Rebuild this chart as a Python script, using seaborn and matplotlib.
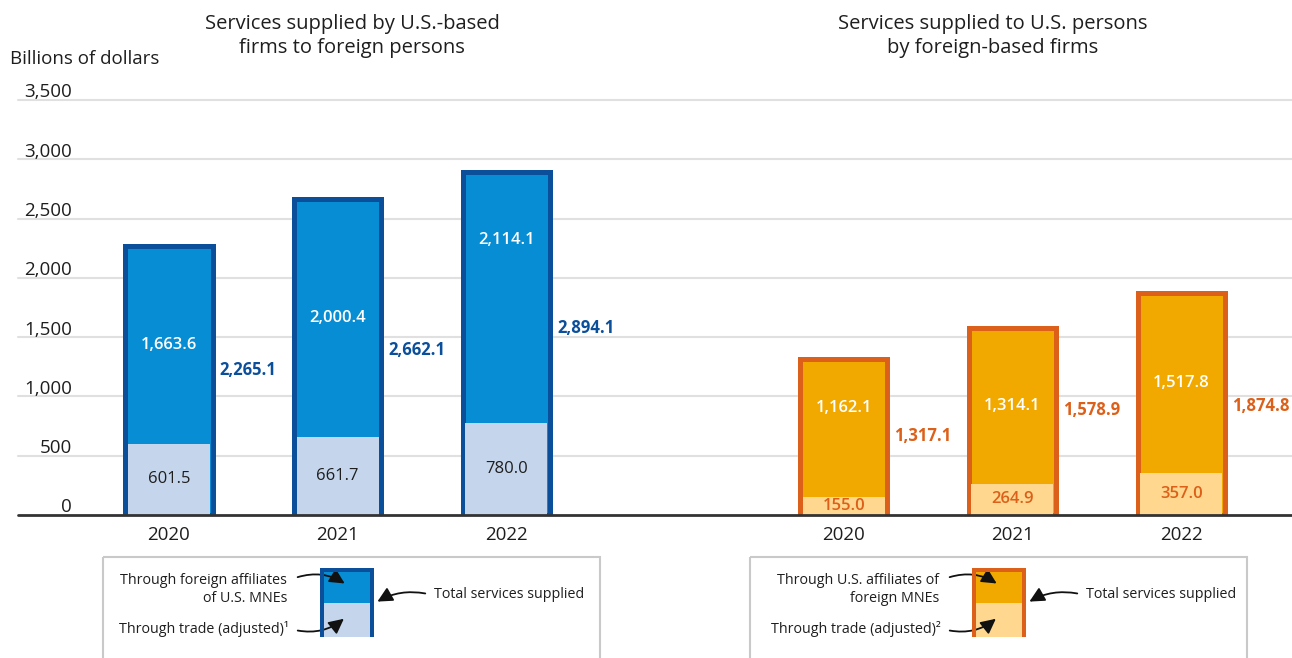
import matplotlib
matplotlib.use("Agg")
import matplotlib.pyplot as plt
from matplotlib.patches import Rectangle, FancyArrowPatch
from matplotlib.transforms import blended_transform_factory
import numpy as np
import pandas as pd
import seaborn as sns

# ---- data (billions of dollars) ----
years = ["2020", "2021", "2022"]
outward_trade = [601.5, 661.7, 780.0]
outward_affiliates = [1663.6, 2000.4, 2114.1]
outward_total = [2265.1, 2662.1, 2894.1]
inward_trade = [155.0, 264.9, 357.0]
inward_affiliates = [1162.1, 1314.1, 1517.8]
inward_total = [1317.1, 1578.9, 1874.8]
y_ticks = [0, 500, 1000, 1500, 2000, 2500, 3000, 3500]

# ---- layout ----
left_pos = np.array([0, 1, 2])
right_pos = np.array([4, 5, 6])
total_label_y = [[1225, 1390, 1575], [665, 885, 920]]
affiliate_label_y = [[1433, 1662, 2318], [902, 922, 1116]]

BLUE_EDGE = "#0b4f9b"
BLUE_MID = "#078dd3"
BLUE_LIGHT = "#c4d5ec"
ORANGE_EDGE = "#dc6019"
ORANGE_MID = "#f1a900"
ORANGE_LIGHT = "#ffd78f"
TEXT = "#1e1e1e"
GRID = "#e0e0e0"

sns.set_style("white")
plt.rcParams["font.family"] = ["Open Sans", "DejaVu Sans"]

W, H = 1292, 658
fig = plt.figure(figsize=(W / 100, H / 100), dpi=100)
ax = fig.add_axes([18 / W, (H - 515) / H, (W - 18) / W, 415 / H])

outline_w = 5 * 72 / 100
outer_w = 0.516
inner_w = 0.486

groups = [
    (left_pos, outward_trade, outward_affiliates, outward_total,
     BLUE_EDGE, BLUE_MID, BLUE_LIGHT, BLUE_EDGE, TEXT),
    (right_pos, inward_trade, inward_affiliates, inward_total,
     ORANGE_EDGE, ORANGE_MID, ORANGE_LIGHT, ORANGE_EDGE, ORANGE_EDGE),
]

for gi, (pos, trade, aff, total, edge, mid, light, tot_col, trade_col) in enumerate(groups):
    df_total = pd.DataFrame({"pos": pos, "value": total})
    df_trade = pd.DataFrame({"pos": pos, "value": trade})
    sns.barplot(data=df_total, x="pos", y="value", native_scale=True, orient="x",
                width=outer_w, color=mid, edgecolor=edge, linewidth=outline_w,
                saturation=1, errorbar=None, ax=ax, zorder=3)
    sns.barplot(data=df_trade, x="pos", y="value", native_scale=True, orient="x",
                width=inner_w, color=light, edgecolor="none", linewidth=0,
                saturation=1, errorbar=None, ax=ax, zorder=4)
    for i, p in enumerate(pos):
        ax.text(p, trade[i] / 2, f"{trade[i]:,.1f}", ha="center", va="center",
                fontsize=12, color=trade_col, zorder=6,
                fontweight="semibold" if gi == 1 else "normal")
        ax.text(p, affiliate_label_y[gi][i], f"{aff[i]:,.1f}", ha="center", va="center",
                fontsize=12, color="white", fontweight="semibold", zorder=6)
        ax.text(p + 0.47, total_label_y[gi][i], f"{total[i]:,.1f}", ha="center",
                va="center", fontsize=12, color=tot_col, fontweight="bold", zorder=6)
        ax.text(p, -170, years[i], ha="center", va="center", fontsize=13.5,
                color=TEXT, clip_on=False)

ax.set_xlim(-0.895, 6.657)
ax.set_ylim(0, 3500)
ax.set_xticks([])
ax.set_yticks([])
ax.set_xlabel("")
ax.set_ylabel("")
for s in ax.spines.values():
    s.set_visible(False)
for t in y_ticks[1:]:
    ax.axhline(t, color=GRID, lw=1.5, zorder=1, clip_on=False)
ax.axhline(0, color="#333333", lw=2, zorder=5, clip_on=False)

tick_tr = blended_transform_factory(ax.transAxes, ax.transData)
for t in y_ticks:
    ax.text((72 - 18) / (W - 18), t + 22, f"{t:,}", transform=tick_tr, ha="right",
            va="baseline", fontsize=13.5, color=TEXT)

# ---- overlay in pixel coordinates for titles and keys ----
ov = fig.add_axes([0, 0, 1, 1], zorder=10)
ov.set_xlim(0, W)
ov.set_ylim(H, 0)
ov.axis("off")
ov.patch.set_alpha(0)

ov.text(352, 36, "Services supplied by U.S.-based\nfirms to foreign persons", ha="center",
        va="center", fontsize=14.5, color=TEXT, linespacing=1.25)
ov.text(993, 36, "Services supplied to U.S. persons\nby foreign-based firms", ha="center",
        va="center", fontsize=14.5, color=TEXT, linespacing=1.25)
ov.text(10, 59, "Billions of dollars", ha="left", va="center", fontsize=13.5, color=TEXT)


def key_box(x0, x1, bx, edge, mid, light, top_lines, trade_text):
    ov.add_patch(Rectangle((x0, 557), x1 - x0, 120, fill=False, ec="#c9c9c9", lw=1.5,
                           clip_on=False))
    ov.add_patch(Rectangle((bx + 2, 570), 50, 33, fc=mid, ec="none"))
    ov.add_patch(Rectangle((bx + 2, 603), 50, 34, fc=light, ec="none"))
    ov.plot([bx + 2, bx + 2, bx + 52, bx + 52], [637, 570, 570, 637], color=edge,
            lw=4 * 0.72, solid_capstyle="butt", solid_joinstyle="miter")
    tx = bx - 33
    ov.text(tx, 581, top_lines[0], ha="right", va="center", fontsize=10.3, color=TEXT)
    ov.text(tx, 598, top_lines[1], ha="right", va="center", fontsize=10.3, color=TEXT)
    ov.text(tx + 2, 629, trade_text, ha="right", va="center", fontsize=10.3, color=TEXT)
    ov.text(bx + 114, 595, "Total services supplied", ha="left", va="center",
            fontsize=10.3, color=TEXT)
    arrows = [((bx - 25, 578), (bx + 27, 585), -0.25),
              ((bx - 25, 630), (bx + 26, 617), 0.25),
              ((bx + 108, 594), (bx + 55, 603), 0.2)]
    for (a, b, rad) in arrows:
        ov.add_patch(FancyArrowPatch(a, b, arrowstyle="-|>,head_length=6,head_width=3",
                                     connectionstyle=f"arc3,rad={rad}", color="#111111",
                                     lw=1.3, mutation_scale=1.5))


key_box(103, 600, 320, BLUE_EDGE, BLUE_MID, BLUE_LIGHT,
        ["Through foreign affiliates", "of U.S. MNEs"], "Through trade (adjusted)\u00b9")
key_box(750, 1247, 972, ORANGE_EDGE, ORANGE_MID, ORANGE_LIGHT,
        ["Through U.S. affiliates of", "foreign MNEs"], "Through trade (adjusted)\u00b2")

fig.savefig("out.png", dpi=100)
